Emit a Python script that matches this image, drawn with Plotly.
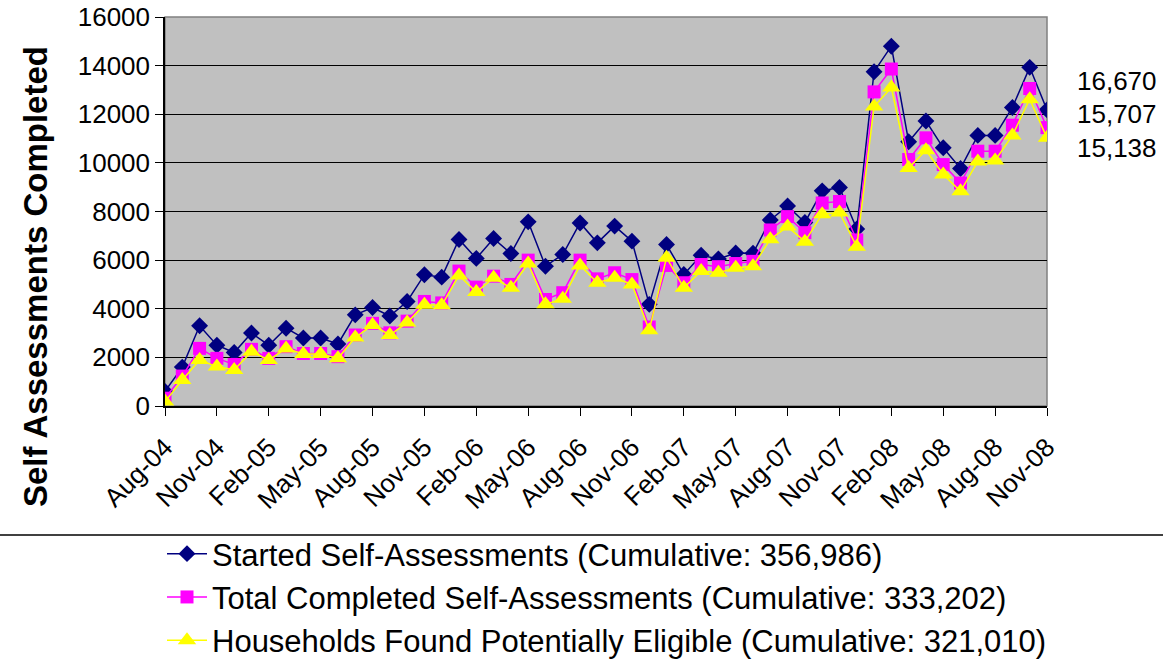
import plotly.graph_objects as go

months = ["Aug-04","Sep-04","Oct-04","Nov-04","Dec-04",
          "Jan-05","Feb-05","Mar-05","Apr-05","May-05","Jun-05","Jul-05","Aug-05","Sep-05","Oct-05","Nov-05","Dec-05",
          "Jan-06","Feb-06","Mar-06","Apr-06","May-06","Jun-06","Jul-06","Aug-06","Sep-06","Oct-06","Nov-06","Dec-06",
          "Jan-07","Feb-07","Mar-07","Apr-07","May-07","Jun-07","Jul-07","Aug-07","Sep-07","Oct-07","Nov-07","Dec-07",
          "Jan-08","Feb-08","Mar-08","Apr-08","May-08","Jun-08","Jul-08","Aug-08","Sep-08","Oct-08","Nov-08"]

started = [600, 1600, 3300, 2500, 2200,
           3000, 2500, 3200, 2800, 2800, 2550, 3750, 4050, 3700, 4300, 5400, 5300,
           6850, 6070, 6890, 6270, 7575, 5750, 6230, 7530, 6710, 7400, 6780, 4180,
           6640, 5410, 6200, 6050, 6290, 6280, 7650, 8230, 7550, 8850, 8990, 7280,
           13750, 14800, 10870, 11720, 10620, 9770, 11130, 11130, 12280, 13930, 12180]

completed = [320, 1230, 2370, 1960, 1710,
             2330, 1960, 2440, 2160, 2160, 2030, 2920, 3400, 3010, 3490, 4300, 4240,
             5550, 4890, 5340, 5000, 6000, 4380, 4660, 6000, 5230, 5480, 5200, 3250,
             5780, 5070, 5820, 5730, 5860, 5950, 7240, 7790, 7130, 8350, 8410, 6830,
             12920, 13860, 10140, 11030, 9930, 9170, 10480, 10480, 11550, 13060, 11450]

eligible = [180, 1070, 1890, 1620, 1480,
            2230, 1890, 2370, 2140, 2140, 1960, 2820, 3330, 2920, 3430, 4160, 4140,
            5370, 4690, 5270, 4860, 5860, 4180, 4410, 5780, 5070, 5270, 5000, 3120,
            6100, 4860, 5550, 5480, 5690, 5750, 6860, 7380, 6760, 7890, 7960, 6550,
            12320, 13100, 9790, 10520, 9520, 8830, 10060, 10100, 11130, 12620, 11030]

series_names = ["Started Self-Assessments (Cumulative: 356,986)",
                "Total Completed Self-Assessments (Cumulative: 333,202)",
                "Households Found Potentially Eligible (Cumulative: 321,010)"]
end_labels = ["16,670", "15,707", "15,138"]
tick_labels = months[::3]
y_ticks = [0, 2000, 4000, 6000, 8000, 10000, 12000, 14000, 16000]

FONT = "Arial, Liberation Sans, sans-serif"
x = list(range(len(months)))

fig = go.Figure()
fig.add_trace(go.Scatter(x=x, y=started, name=series_names[0], mode="lines+markers",
                         line=dict(color="#000080", width=1.5),
                         marker=dict(symbol="diamond", size=13, color="#000080"),
                         legendgroup="a"))
fig.add_trace(go.Scatter(x=x, y=completed, name=series_names[1], mode="lines+markers",
                         line=dict(color="#FF00FF", width=1.5),
                         marker=dict(symbol="square", size=13, color="#FF00FF"),
                         legendgroup="b"))
fig.add_trace(go.Scatter(x=x, y=eligible, name=series_names[2], mode="lines+markers",
                         line=dict(color="#FFFF00", width=1.5),
                         marker=dict(symbol="triangle-up", size=16, color="#FFFF00"),
                         legendgroup="c"))

L, R, T, B = 165, 116, 17, 256
W, H = 1163, 662
pw = W - L - R
ph = H - T - B

def px_x(p):
    return (p - L) / pw

def px_y(p):
    return (H - B - p) / ph

annotations = [
    dict(text="Self Assessments Completed", textangle=-90, xref="paper", yref="paper",
         x=px_x(35), y=px_y(277), showarrow=False, xanchor="center", yanchor="middle",
         font=dict(family=FONT, size=33, color="black", weight="bold")),
]
for lbl, yp in zip(end_labels, [81, 114, 148]):
    annotations.append(dict(text=lbl, xref="paper", yref="paper", x=px_x(1075), y=px_y(yp),
                            showarrow=False, xanchor="left", yanchor="middle",
                            font=dict(family=FONT, size=26, color="black")))

fig.update_layout(
    width=W, height=H,
    margin=dict(l=L, r=R, t=T, b=B, autoexpand=False),
    paper_bgcolor="white", plot_bgcolor="#C0C0C0",
    font=dict(family=FONT, size=24, color="black"),
    showlegend=True,
    legend=dict(xref="container", yref="container", x=162 / W, y=1 - 527 / H,
                xanchor="left", yanchor="top",
                font=dict(family=FONT, size=31, color="black"),
                tracegroupgap=0, bgcolor="rgba(0,0,0,0)", itemwidth=40),
    annotations=annotations,
    shapes=[
        dict(type="line", xref="paper", yref="paper", x0=px_x(0), x1=px_x(W),
             y0=px_y(535), y1=px_y(535), line=dict(color="black", width=1.5)),
        dict(type="rect", xref="paper", yref="paper", x0=0, x1=1, y0=0, y1=1,
             line=dict(color="#808080", width=1.5), layer="below"),
    ],
)

fig.update_xaxes(range=[0, len(months) - 1], tickmode="array", tickvals=x[::3], ticktext=tick_labels,
                 tickangle=-45, ticks="outside", ticklen=8, tickcolor="black",
                 showgrid=False, showline=True, linecolor="black", linewidth=1.5,
                 zeroline=False, tickfont=dict(family=FONT, size=26), automargin=False,
                 ticklabelstandoff=6)
fig.update_yaxes(range=[0, 16000], tickmode="array", tickvals=y_ticks, ticktext=[str(v) for v in y_ticks],
                 ticks="outside", ticklen=8, tickcolor="black",
                 showgrid=True, gridcolor="black", gridwidth=1, showline=True, linecolor="black",
                 linewidth=1.5, zeroline=False, tickfont=dict(family=FONT, size=26), automargin=False)

fig.write_html("out.html", config={"displayModeBar": False},
               post_script="document.body.style.margin='0px';")
